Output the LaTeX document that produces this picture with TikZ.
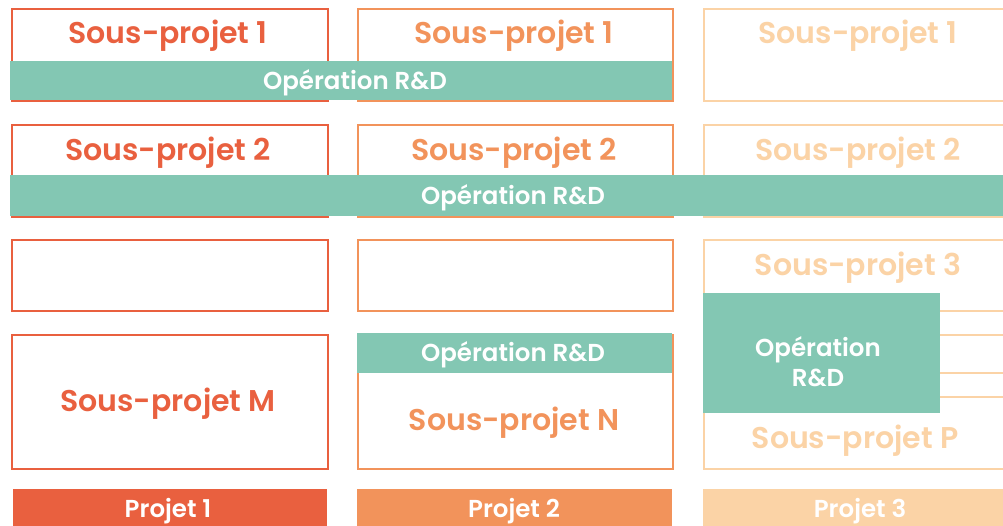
\documentclass[tikz,border=0pt]{standalone}
\usepackage{fontspec}
\setmainfont{Poppins}[BoldFont={Poppins SemiBold}]
\definecolor{pone}{HTML}{E9603F}
\definecolor{ptwo}{HTML}{F2935B}
\definecolor{pthree}{HTML}{FBD3A6}
\definecolor{opgreen}{HTML}{83C7B3}
\tikzset{
  sub/.style={draw=#1, line width=2pt, fill=white, anchor=north west, inner sep=0pt},
  subtext/.style={text=#1, font=\bfseries\fontsize{30}{34}\selectfont},
  op/.style={fill=opgreen, anchor=north west, inner sep=0pt},
  optext/.style={text=white, font=\bfseries\fontsize{24.5}{30}\selectfont, align=center},
  proj/.style={fill=#1, anchor=north west, inner sep=0pt},
}
\begin{document}
\begin{tikzpicture}[x=1pt,y=-1pt]
\useasboundingbox (0,0) rectangle (1003,525);
\begin{scope}
\clip (0,0) rectangle (1003,525);
% colonne 1
\draw (11,8) node[sub=pone, minimum width=316, minimum height=92] (a1) {};
\draw (11,124) node[sub=pone, minimum width=316, minimum height=92] (a2) {};
\draw (11,239) node[sub=pone, minimum width=316, minimum height=71] (a3) {};
\draw (11,334) node[sub=pone, minimum width=316, minimum height=134] (a4) {};
% colonne 2
\draw (357,8) node[sub=ptwo, minimum width=315, minimum height=92] (b1) {};
\draw (357,124) node[sub=ptwo, minimum width=315, minimum height=92] (b2) {};
\draw (357,239) node[sub=ptwo, minimum width=315, minimum height=71] (b3) {};
\draw (357,334) node[sub=ptwo, minimum width=315, minimum height=134] (b4) {};
% colonne 3
\draw (703,8) node[sub=pthree, minimum width=320, minimum height=92] (c1) {};
\draw (703,124) node[sub=pthree, minimum width=320, minimum height=92] (c2) {};
\draw (703,239) node[sub=pthree, minimum width=320, minimum height=71] (c3) {};
\draw (703,334) node[sub=pthree, minimum width=320, minimum height=38] (c4) {};
\draw (703,396) node[sub=pthree, minimum width=320, minimum height=72] (c5) {};
% operations R&D
\draw (10,61) node[op, minimum width=662, minimum height=39] (op1) {};
\draw (10,175) node[op, minimum width=993, minimum height=41] (op2) {};
\draw (357,333) node[op, minimum width=315, minimum height=40] (op3) {};
\draw (703,293) node[op, minimum width=237, minimum height=120] (op4) {};
% projets
\draw (13,489) node[proj=pone, minimum width=314, minimum height=40] (p1) {};
\draw (357,489) node[proj=ptwo, minimum width=315, minimum height=40] (p2) {};
\draw (703,489) node[proj=pthree, minimum width=320, minimum height=40] (p3) {};
\end{scope}
% textes
\draw (168,36) node[subtext=pone] (ta1) {Sous-projet 1};
\draw (168,153) node[subtext=pone] (ta2) {Sous-projet 2};
\draw (168,404) node[subtext=pone] (ta4) {Sous-projet M};
\draw (514,36) node[subtext=ptwo] (tb1) {Sous-projet 1};
\draw (514,153) node[subtext=ptwo] (tb2) {Sous-projet 2};
\draw (514,423) node[subtext=ptwo] (tb4) {Sous-projet N};
\draw (858,36) node[subtext=pthree] (tc1) {Sous-projet 1};
\draw (858,153) node[subtext=pthree] (tc2) {Sous-projet 2};
\draw (858,268) node[subtext=pthree] (tc3) {Sous-projet 3};
\draw (855,441) node[subtext=pthree] (tc5) {Sous-projet P};
\draw (355,83) node[optext] (to1) {Opération R\&D};
\draw (513,198) node[optext] (to2) {Opération R\&D};
\draw (513,355) node[optext] (to3) {Opération R\&D};
\draw (818,362) node[optext, text depth=0pt] (to4) {Opération\\R\&D};
\draw (168,511) node[optext] (tp1) {Projet 1};
\draw (514,511) node[optext] (tp2) {Projet 2};
\draw (860,511) node[optext] (tp3) {Projet 3};
\end{tikzpicture}
\end{document}
